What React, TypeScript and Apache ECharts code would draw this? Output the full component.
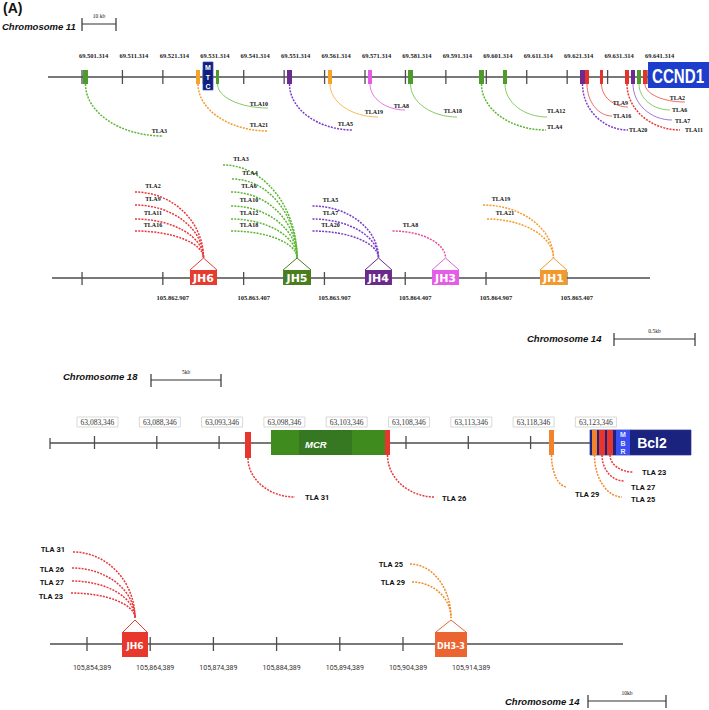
import React, { useEffect, useRef } from "react";
import * as echarts from "echarts";

/* ================= DATA ================= */
// Panel 1 – chromosome 11 (CCND1 locus)
const chr11Ticks = [69501314, 69511314, 69521314, 69531314, 69541314, 69551314, 69561314, 69571314, 69581314, 69591314, 69601314, 69611314, 69621314, 69631314, 69641314];
const chr11Exons: [number, number, string][] = [
  [69501560, 69502800, "green"],
  [69529510, 69530500, "orange"],
  [69534460, 69535200, "green"],
  [69552020, 69553260, "purple"],
  [69562160, 69563150, "orange"],
  [69572050, 69573040, "pink"],
  [69581950, 69583180, "green"],
  [69599510, 69600750, "green"],
  [69605440, 69606430, "green"],
  [69624490, 69625730, "purple"],
  [69625730, 69626720, "red"],
  [69629440, 69630180, "red"],
  [69635620, 69636610, "red"],
  [69637100, 69638090, "purple"],
  [69638590, 69639580, "green"],
  [69640070, 69641060, "red"],
];
const chr11Genes: [string, number, number][] = [
  ["MTC", 69531240, 69533720],
  ["CCND1", 69641314, 69660000],
];
// TLA name -> exon index
const chr11Links: [string, number][] = [
  ["TLA3", 0], ["TLA21", 1], ["TLA10", 2], ["TLA5", 3], ["TLA19", 4], ["TLA8", 5],
  ["TLA18", 6], ["TLA4", 7], ["TLA12", 8], ["TLA20", 9], ["TLA16", 10], ["TLA9", 11],
  ["TLA11", 12], ["TLA7", 13], ["TLA6", 14], ["TLA2", 15],
];

// Panel 2 – chromosome 14 (JH segments)
const jhTicks = [105862407, 105862907, 105863407, 105863907, 105864407, 105864907, 105865407];
const jhTickLabels = ["", "105.862.907", "105.863.407", "105.863.907", "105.864.407", "105.864.907", "105.865.407"];
const jhSegments: [string, number, number, string][] = [
  ["JH6", 105863075, 105863242, "red"],
  ["JH5", 105863651, 105863824, "green"],
  ["JH4", 105864158, 105864325, "purple"],
  ["JH3", 105864573, 105864740, "pink"],
  ["JH1", 105865241, 105865408, "orange"],
];
const jhLinks: [string, number][] = [
  ["TLA2", 0], ["TLA9", 0], ["TLA11", 0], ["TLA16", 0],
  ["TLA3", 1], ["TLA4", 1], ["TLA6", 1], ["TLA10", 1], ["TLA12", 1], ["TLA18", 1],
  ["TLA5", 2], ["TLA7", 2], ["TLA20", 2],
  ["TLA8", 3],
  ["TLA19", 4], ["TLA21", 4],
];

// Panel 3 – chromosome 18 (BCL2 locus)
const chr18Ticks = [63083346, 63088346, 63093346, 63098346, 63103346, 63108346, 63113346, 63118346, 63123346];
const chr18Regions: [string, number, number][] = [
  ["MCR", 63097511, 63106661],
  ["MCRcore", 63099759, 63104012],
  ["Bcl2", 63123113, 63131219],
  ["MBR", 63125200, 63126324],
];
const chr18Exons: [number, number, string][] = [
  [63095425, 63095906, "red"],
  [63106661, 63107062, "red"],
  [63119823, 63120224, "orange"],
  [63123274, 63123675, "orange"],
  [63123836, 63124317, "red"],
  [63124478, 63124959, "red"],
];
const chr18Links: [string, number][] = [
  ["TLA 31", 0], ["TLA 26", 1], ["TLA 29", 2], ["TLA 25", 3], ["TLA 27", 4], ["TLA 23", 5],
];

// Panel 4 – chromosome 14 (JH6 / DH3-3)
const ighTicks = [105854389, 105864389, 105874389, 105884389, 105894389, 105904389, 105914389];
const ighSegments: [string, number, number, string][] = [
  ["JH6", 105859927, 105864041, "red"],
  ["DH3-3", 105909452, 105914516, "vermilion"],
];
const ighLinks: [string, number][] = [
  ["TLA 31", 0], ["TLA 26", 0], ["TLA 27", 0], ["TLA 23", 0], ["TLA 25", 1], ["TLA 29", 1],
];

/* ================= LAYOUT / STYLE ================= */
const W = 709;
const H = 710;
const PANELS = [
  { left: 48, min: 69492904, max: 69656396, trackY: 77 },
  { left: 52, min: 105862221, max: 105866287, trackY: 278 },
  { left: 50, min: 63079775, max: 63132664, trackY: 443 },
  { left: 50, min: 105848535, max: 105952807, trackY: 644 },
];
const TRACK_END = [69641314, 105865922, 63123113, 105939199];

// per link: dx, dy (px), label dx, label dy, label align, dotted
const chr11LinkLayout: [number, number, number, number, string, boolean][] = [
  [77.5, 59, 4, -5, "right", true],
  [70, 54, 0, -6, "right", true],
  [50.5, 31, 0, -4, "right", false],
  [63.5, 53, 0, -6, "right", true],
  [48, 40, 5, -5, "right", false],
  [35, 33, 4, -4, "right", false],
  [46.5, 40, 5, -6, "right", false],
  [64.5, 53, 1, -3, "left", true],
  [42, 40, 0, -6, "left", false],
  [45.5, 53, 1, 0, "left", true],
  [25, 39, 1, 0, "left", false],
  [26.5, 30, 0, -4, "right", false],
  [53, 53, 5, 0, "left", true],
  [39, 43, 3, 1, "left", false],
  [31, 33, 2, 0, "left", false],
  [40, 25, 0, -4, "right", false],
];
// left end relative to apex x, and to track y
const jhLinkLayout: [number, number][] = [
  [-68.5, -86], [-68.5, -73], [-68.5, -59], [-68.5, -47],
  [-74, -113], [-65, -99], [-66, -86], [-66, -72], [-66, -59], [-66, -47],
  [-66, -72], [-66, -59], [-66, -47],
  [-53, -47],
  [-70.5, -73], [-66.5, -59],
];
const chr18LinkLayout: [number, number, number, number][] = [
  [47, 54, 10, 0], [47.5, 54, 7, 1], [15.5, 44, 8, 7], [27.5, 54, 9, 2], [22, 38, 7, 6], [23, 29, 9, 0],
];
const ighLinkLayout: [number, number, number, number][] = [
  [-62, -92, -8, -3], [-63, -76, -8, 1], [-63, -63, -8, 1], [-64, -51, -8, 3], [-41, -80, -7, 0], [-39, -62, -7, 0],
];

const FILL: Record<string, string> = {
  green: "#4c9b2c", orange: "#f6a327", purple: "#6b2b8f", pink: "#e35be6", red: "#e5322b",
  vermilion: "#ea6531", navy: "#0f1f7e", blue: "#1d3ecd",
};
const SEG2: Record<string, string> = { red: "#e63c2f", green: "#4a7d1e", purple: "#6a2a8b", pink: "#e35de6", orange: "#f2992c" };
const ARC: Record<string, string> = { green: "#5db534", orange: "#f39c30", purple: "#7a3cc8", pink: "#e2509c", red: "#e8383a", vermilion: "#f07a2e" };
const THIN: Record<string, string> = { green: "#78c552", orange: "#f6b24a", purple: "#9466d8", pink: "#e566dc", red: "#ee5a55" };
const ORANGE18 = "#f0832c";
const AXIS = "#4d4d4d";
const F_TICK = "bold 6.5px 'Liberation Serif'";
const F_TLA_S = "bold 6px 'Liberation Serif'";
const F_TLA = "bold 7.5px Roboto";

/* ================= HELPERS ================= */
const ln = (x1: number, y1: number, x2: number, y2: number, stroke: string, w: number) => ({
  type: "line", shape: { x1, y1, x2, y2 }, style: { stroke, lineWidth: w },
});
const tx = (x: number, y: number, t: string, font: string, fill: string, align = "center", extra: any = {}) => ({
  type: "text", x, y, ...extra,
  style: { text: t, font, fill, align, verticalAlign: "middle", textAlign: align, textVerticalAlign: "middle" },
});
const rc = (x: number, y: number, w: number, h: number, fill: string, stroke?: string) => ({
  type: "rect", shape: { x, y, width: w, height: h },
  style: stroke ? { fill, stroke, lineWidth: 0.7 } : { fill },
});
const arcDown = (S: number[], E: number[], stroke: string, dotted: boolean) => ({
  type: "bezierCurve",
  shape: { x1: S[0], y1: S[1], cpx1: S[0], cpy1: S[1] + 0.55 * (E[1] - S[1]), cpx2: E[0] - 0.55 * (E[0] - S[0]), cpy2: E[1], x2: E[0], y2: E[1] },
  style: dotted ? { stroke, fill: "none", lineWidth: 1.5, lineDash: [2, 1.2] } : { stroke, fill: "none", lineWidth: 0.9 },
});
const arcApex = (L: number[], A: number[], stroke: string) => ({
  type: "bezierCurve",
  shape: { x1: L[0], y1: L[1], cpx1: L[0] + 0.55 * (A[0] - L[0]), cpy1: L[1], cpx2: A[0], cpy2: A[1] - 0.55 * (A[1] - L[1]), x2: A[0], y2: A[1] },
  style: { stroke, fill: "none", lineWidth: 1.5, lineDash: [2, 1.2] },
});
const fmt = (n: number, sep: string) => String(n).replace(/\B(?=(\d{3})+(?!\d))/g, sep);

const cs = (panel: number, data: any[], renderItem: any, z = 2) => ({
  type: "custom", coordinateSystem: "cartesian2d", xAxisIndex: panel, yAxisIndex: panel,
  data, renderItem, silent: true, clip: false, z, animation: false,
});

function buildOption(): any {
  const series: any[] = [];

  // tracks
  PANELS.forEach((p, i) => {
    series.push(cs(i, [[p.min, 0]], (_: any, api: any) => {
      const a = api.coord([p.min, 0]);
      const b = api.coord([TRACK_END[i], 0]);
      const g: any[] = [ln(a[0], a[1], b[0], b[1], AXIS, 1.4)];
      if (i === 2) g.push(ln(a[0], a[1] - 5, a[0], a[1] + 6, AXIS, 1.3));
      return { type: "group", children: g };
    }, 1));
  });

  /* ---------- Panel 1 ---------- */
  series.push(cs(0, chr11Ticks.map((t) => [t, 0]), (pr: any, api: any) => {
    const t = chr11Ticks[pr.dataIndex];
    const a = api.coord([t, -7]);
    const b = api.coord([t, 7]);
    return { type: "group", children: [
      ln(a[0], a[1], b[0], b[1], AXIS, 1.3),
      tx(a[0] + 11.5, api.coord([t, -22])[1], fmt(t, "."), F_TICK, "#222"),
    ] };
  }));
  series.push(cs(0, chr11Genes.map((g) => [g[1], 0]), (pr: any, api: any) => {
    const [name, s, e] = chr11Genes[pr.dataIndex];
    const a = api.coord([s, -15]);
    if (name === "MTC") {
      const b = api.coord([e, 13]);
      const cx = (a[0] + b[0]) / 2;
      const y0 = api.coord([s, 0])[1];
      return { type: "group", children: [
        rc(a[0], a[1], b[0] - a[0], b[1] - a[1], FILL.navy, "#3b4aa8"),
        tx(cx, y0 - 10, "M", "bold 7px 'Liberation Sans'", "#fff"),
        tx(cx, y0, "T", "bold 7px 'Liberation Sans'", "#fff"),
        tx(cx, y0 + 9, "C", "bold 7px 'Liberation Sans'", "#fff"),
      ] };
    }
    const b = api.coord([e, 11]);
    return { type: "group", children: [
      rc(a[0], a[1], b[0] - a[0], b[1] - a[1], FILL.blue),
      tx(a[0] + 30, api.coord([s, -1.5])[1], name, "bold 21px 'Liberation Sans'", "#fff", "center", { scaleX: 0.72 }),
    ] };
  }, 3));
  series.push(cs(0, chr11Exons.map((e) => [e[0], 0]), (pr: any, api: any) => {
    const [s, e, c] = chr11Exons[pr.dataIndex];
    const a = api.coord([s, -7]);
    const b = api.coord([e, 7]);
    return rc(a[0], a[1], Math.max(b[0] - a[0], 2), b[1] - a[1], FILL[c]);
  }, 3));
  series.push(cs(0, chr11Links.map((l) => [chr11Exons[l[1]][0], 0]), (pr: any, api: any) => {
    const [name, ei] = chr11Links[pr.dataIndex];
    const [dx, dy, lx, ly, al, dotted] = chr11LinkLayout[pr.dataIndex];
    const ex = chr11Exons[ei];
    const c = ex[2];
    const S = api.coord([(ex[0] + ex[1]) / 2, 7]);
    const E = [S[0] + dx, api.coord([ex[0], dy])[1]];
    return { type: "group", children: [
      arcDown(S, E, dotted ? ARC[c] : THIN[c], dotted),
      tx(E[0] + lx, E[1] + ly, name, F_TLA_S, "#111", al),
    ] };
  }, 4));

  /* ---------- Panel 2 ---------- */
  series.push(cs(1, jhTicks.map((t) => [t, 0]), (pr: any, api: any) => {
    const i = pr.dataIndex;
    const t = jhTicks[i];
    const a = api.coord([t, -6]);
    const b = api.coord([t, 7]);
    const g: any[] = [ln(a[0], a[1], b[0], b[1], AXIS, 1.3)];
    if (jhTickLabels[i]) g.push(tx(a[0] + 10, api.coord([t, 19])[1], jhTickLabels[i], F_TICK, "#222"));
    return { type: "group", children: g };
  }));
  series.push(cs(1, jhSegments.map((s) => [s[1], 0]), (pr: any, api: any) => {
    const [name, s, e, c] = jhSegments[pr.dataIndex];
    const a = api.coord([s, -8]);
    const b = api.coord([e, 7]);
    const cx = (a[0] + b[0]) / 2;
    const apexY = api.coord([s, -20])[1];
    return { type: "group", children: [
      { type: "polyline", shape: { points: [[a[0], a[1]], [cx, apexY], [b[0], a[1]]] }, style: { stroke: SEG2[c], fill: "none", lineWidth: 1 } },
      rc(a[0], a[1], b[0] - a[0], b[1] - a[1], SEG2[c]),
      tx(cx, api.coord([s, 0])[1], name, "bold 11px 'DejaVu Sans'", "#fff"),
    ] };
  }, 3));
  series.push(cs(1, jhLinks.map((l) => [jhSegments[l[1]][1], 0]), (pr: any, api: any) => {
    const [name, si] = jhLinks[pr.dataIndex];
    const [dx, dy] = jhLinkLayout[pr.dataIndex];
    const seg = jhSegments[si];
    const A = api.coord([(seg[1] + seg[2]) / 2, -20]);
    const L = [A[0] + dx, api.coord([seg[1], dy])[1]];
    return { type: "group", children: [
      arcApex(L, A, ARC[seg[3]]),
      tx(L[0] + 18, L[1] - 6, name, F_TLA_S, "#111"),
    ] };
  }, 4));

  /* ---------- Panel 3 ---------- */
  series.push(cs(2, chr18Ticks.map((t) => [t, 0]), (pr: any, api: any) => {
    const t = chr18Ticks[pr.dataIndex];
    const a = api.coord([t, -7]);
    const b = api.coord([t, 6]);
    const ly = api.coord([t, -21])[1];
    return { type: "group", children: [
      ln(a[0], a[1], b[0], b[1], AXIS, 1.3),
      rc(a[0] + 3 - 20.5, ly - 5, 41, 10, "#fff", "#c9c9c9"),
      tx(a[0] + 3, ly, fmt(t, ","), "7.5px 'Liberation Serif'", "#333"),
    ] };
  }));
  series.push(cs(2, chr18Regions.map((r) => [r[1], 0]), (pr: any, api: any) => {
    const [name, s, e] = chr18Regions[pr.dataIndex];
    const a = api.coord([s, -13]);
    const b = api.coord([e, 12]);
    const y0 = api.coord([s, 0])[1];
    if (name === "MCR") return rc(a[0], a[1], b[0] - a[0], b[1] - a[1], "#3f8b1d");
    if (name === "MCRcore") return { type: "group", children: [
      rc(a[0], a[1], b[0] - a[0], b[1] - a[1], "#367822"),
      tx(a[0] + 6, y0 + 1, "MCR", "italic bold 9.5px 'Liberation Sans'", "#fff", "left"),
    ] };
    if (name === "Bcl2") return rc(a[0], a[1], b[0] - a[0], b[1] - a[1], "#1a237e", "#2a3390");
    const cx = (a[0] + b[0]) / 2;
    return { type: "group", children: [
      rc(a[0], a[1], b[0] - a[0], b[1] - a[1], "#3c4ff0"),
      tx(cx, y0 - 9, "M", "bold 7px 'Liberation Sans'", "#e8ecff"),
      tx(cx, y0, "B", "bold 7px 'Liberation Sans'", "#e8ecff"),
      tx(cx, y0 + 8, "R", "bold 7px 'Liberation Sans'", "#e8ecff"),
      tx(b[0] + 22, y0, "Bcl2", "bold 14px 'Liberation Sans'", "#fff"),
    ] };
  }, 3));
  series.push(cs(2, chr18Exons.map((e) => [e[0], 0]), (pr: any, api: any) => {
    const i = pr.dataIndex;
    const [s, e, c] = chr18Exons[i];
    const a = api.coord([s, i === 0 ? -11 : -13]);
    const b = api.coord([e, i === 0 ? 15 : 12]);
    return rc(a[0], a[1], Math.max(b[0] - a[0], 2), b[1] - a[1], c === "red" ? "#e6362e" : ORANGE18);
  }, 4));
  series.push(cs(2, chr18Links.map((l) => [chr18Exons[l[1]][0], 0]), (pr: any, api: any) => {
    const [name, ei] = chr18Links[pr.dataIndex];
    const [dx, dy, lx, ly] = chr18LinkLayout[pr.dataIndex];
    const ex = chr18Exons[ei];
    const S = api.coord([(ex[0] + ex[1]) / 2, ei === 0 ? 15 : 12]);
    const E = [S[0] + dx, api.coord([ex[0], dy])[1]];
    return { type: "group", children: [
      arcDown(S, E, ex[2] === "red" ? "#e8383a" : "#f08a2a", true),
      tx(E[0] + lx, E[1] + ly, name, F_TLA, "#111", "left"),
    ] };
  }, 5));

  /* ---------- Panel 4 ---------- */
  series.push(cs(3, ighTicks.map((t) => [t, 0]), (pr: any, api: any) => {
    const t = ighTicks[pr.dataIndex];
    const a = api.coord([t, -7]);
    const b = api.coord([t, 7]);
    return { type: "group", children: [
      ln(a[0], a[1], b[0], b[1], AXIS, 1.3),
      tx(a[0] + 5, api.coord([t, 24])[1], fmt(t, ","), "7px Roboto", "#333"),
    ] };
  }));
  series.push(cs(3, ighSegments.map((s) => [s[1], 0]), (pr: any, api: any) => {
    const [name, s, e, c] = ighSegments[pr.dataIndex];
    const a = api.coord([s, -12]);
    const b = api.coord([e, 13]);
    const cx = (a[0] + b[0]) / 2;
    const apexY = api.coord([s, -24])[1];
    const col = c === "red" ? "#e8382e" : FILL.vermilion;
    return { type: "group", children: [
      { type: "polyline", shape: { points: [[a[0] + 1, a[1]], [cx, apexY], [b[0] - 1, a[1]]] }, style: { stroke: col, fill: "none", lineWidth: 1 } },
      rc(a[0], a[1], b[0] - a[0], b[1] - a[1], col),
      tx(cx, api.coord([s, 2])[1], name, name === "JH6" ? "bold 9px 'DejaVu Sans'" : "bold 8px 'DejaVu Sans'", "#fff"),
    ] };
  }, 3));
  series.push(cs(3, ighLinks.map((l) => [ighSegments[l[1]][1], 0]), (pr: any, api: any) => {
    const [name, si] = ighLinks[pr.dataIndex];
    const [dx, dy, lx, ly] = ighLinkLayout[pr.dataIndex];
    const seg = ighSegments[si];
    const A = api.coord([(seg[1] + seg[2]) / 2, -26]);
    const L = [A[0] + dx, api.coord([seg[1], dy])[1]];
    return { type: "group", children: [
      arcApex(L, A, seg[3] === "red" ? "#e8383a" : "#f08a2a"),
      tx(L[0] + lx, L[1] + ly, name, F_TLA, "#111", "right"),
    ] };
  }, 4));

  /* ---------- decorations ---------- */
  const chromFont = "italic bold 9.5px 'Liberation Sans'";
  const gtext = (x: number, y: number, t: string, font: string, align = "left") => ({
    type: "text", x, y, silent: true,
    style: { text: t, font, fill: "#111", align, verticalAlign: "middle", textAlign: align, textVerticalAlign: "middle" },
  });
  const gline = (x1: number, y1: number, x2: number, y2: number) => ({
    type: "line", silent: true, shape: { x1, y1, x2, y2 }, style: { stroke: "#333", lineWidth: 1.2 },
  });
  const scaleBar = (x1: number, x2: number, y: number, label: string) => [
    gline(x1, y, x2, y), gline(x1, y - 6, x1, y + 7), gline(x2, y - 6, x2, y + 7),
    gtext((x1 + x2) / 2, y - 8, label, "5.5px 'Liberation Serif'", "center"),
  ];
  const graphic = [
    gtext(3, 8, "(A)", "bold 14px 'Liberation Sans'"),
    gtext(2, 26, "Chromosome 11", chromFont),
    ...scaleBar(82, 116, 24, "10 kb"),
    gtext(527, 338, "Chromosome 14", chromFont),
    ...scaleBar(614, 695, 339, "0.5kb"),
    gtext(63, 376, "Chromosome 18", chromFont),
    ...scaleBar(151, 221, 380, "5kb"),
    gtext(505, 701, "Chromosome 14", chromFont),
    ...scaleBar(588, 666, 701, "10kb"),
  ];

  return {
    animation: false,
    backgroundColor: "#ffffff",
    grid: PANELS.map(() => ({ left: 0, right: 0, top: 0, bottom: 0, show: false })).map((g, i) => ({ ...g, left: PANELS[i].left })),
    xAxis: PANELS.map((p, i) => ({ type: "value", gridIndex: i, min: p.min, max: p.max, show: false })),
    yAxis: PANELS.map((p, i) => ({ type: "value", gridIndex: i, min: -p.trackY, max: H - p.trackY, inverse: true, show: false })),
    graphic,
    series,
  };
}

export default function App() {
  const ref = useRef<HTMLDivElement>(null);
  useEffect(() => {
    if (!ref.current) return;
    const chart = echarts.init(ref.current, null, { renderer: "svg" });
    chart.setOption(buildOption());
    return () => chart.dispose();
  }, []);
  return (
    <div
      ref={ref}
      style={{ position: "fixed", left: 0, top: 0, width: W, height: H, background: "#fff" }}
    />
  );
}
